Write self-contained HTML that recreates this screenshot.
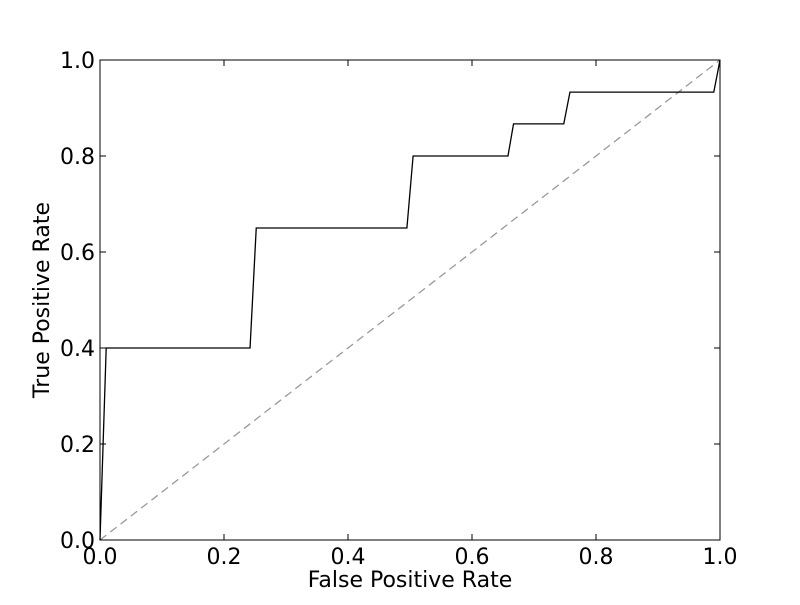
<!DOCTYPE html>
<html><head><meta charset="utf-8"><style>
html,body{margin:0;padding:0;background:#fff;}
svg text{font-family:"DejaVu Sans","Liberation Sans",sans-serif;fill:#000;}
</style></head><body>
<svg id="chart" width="800" height="600" xmlns="http://www.w3.org/2000/svg">
<rect width="800" height="600" fill="#fff"/>
<g id="plot"></g>
</svg>
<script>
const fprValues = [0, 0.01, 0.242, 0.252, 0.495, 0.505, 0.658, 0.667, 0.748, 0.758, 0.99, 1.0];
const tprValues = [0, 0.4, 0.4, 0.65, 0.65, 0.8, 0.8, 0.867, 0.867, 0.933, 0.933, 1.0];
const xTicks = [0, 0.2, 0.4, 0.6, 0.8, 1.0];
const yTicks = [0, 0.2, 0.4, 0.6, 0.8, 1.0];
const xTickLabels = ["0.0","0.2","0.4","0.6","0.8","1.0"];
const yTickLabels = ["0.0","0.2","0.4","0.6","0.8","1.0"];

const L=100,R=720,T=60,B=540;
const sx=v=>L+(R-L)*v, sy=v=>B-(B-T)*v;
const NS="http://www.w3.org/2000/svg";
const g=document.getElementById('plot');
function mk(tag,attrs){const e=document.createElementNS(NS,tag);for(const k in attrs)e.setAttribute(k,attrs[k]);g.appendChild(e);return e;}

let e=mk('line',{x1:sx(0),y1:sy(0),x2:sx(1),y2:sy(1),stroke:'#999','stroke-width':1.3,'stroke-dasharray':'8,5'});



e=mk('polyline',{points:fprValues.map((v,i)=>sx(v)+','+sy(tprValues[i])).join(' '),fill:'none',stroke:'#000','stroke-width':1.3});



e=mk('rect',{x:L,y:T,width:R-L,height:B-T,fill:'none',stroke:'#000','stroke-width':1});



xTicks.forEach((v,i)=>{
  const x=sx(v);
  let t=mk('line',{x1:x,y1:B,x2:x,y2:B-6,stroke:'#000'});
  
  
  t=mk('line',{x1:x,y1:T,x2:x,y2:T+6,stroke:'#000'});
  
  
  t=mk('text',{x:x,y:B+24,'text-anchor':'middle','font-size':22});
  t.textContent=xTickLabels[i];
  
  
});
yTicks.forEach((v,i)=>{
  const y=sy(v);
  let t=mk('line',{x1:L,y1:y,x2:L+6,y2:y,stroke:'#000'});
  
  
  t=mk('line',{x1:R,y1:y,x2:R-6,y2:y,stroke:'#000'});
  
  
  t=mk('text',{x:L-5,y:y+8,'text-anchor':'end','font-size':22});
  t.textContent=yTickLabels[i];
  
  
});
e=mk('text',{x:410,y:587,'text-anchor':'middle','font-size':22});
e.textContent='False Positive Rate';


e=mk('text',{x:49,y:300,'text-anchor':'middle','font-size':22,transform:'rotate(-90 49 300)'});
e.textContent='True Positive Rate';


</script>
</body></html>
